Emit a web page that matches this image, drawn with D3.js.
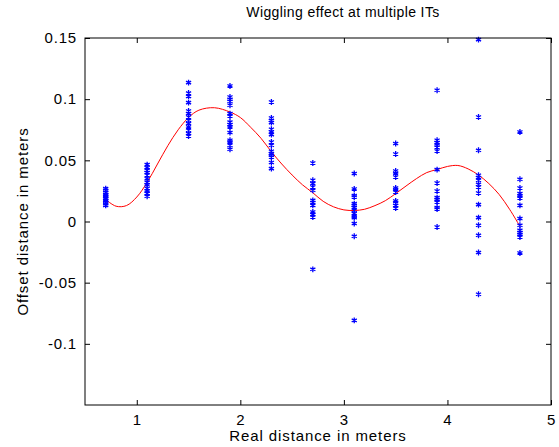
<!DOCTYPE html>
<html>
<head>
<meta charset="utf-8">
<script src="https://cdn.jsdelivr.net/npm/d3@7"></script>
<style>
  body { margin: 0; background: #fff; }
  text { font-family: "Liberation Sans", Arial, sans-serif; fill: #000; }
</style>
</head>
<body>
<div id="chart"></div>
<script>
// measurement positions (m) and the offsets measured at each one
var positions = [0.7, 1.1, 1.5, 1.9, 2.3, 2.7, 3.1, 3.5, 3.9, 4.3, 4.7];
var offsets = [
    [0.0269, 0.0255, 0.0238, 0.0222, 0.0206, 0.019, 0.0173, 0.0157, 0.0145, 0.0132, 0.0215, 0.0185],
    [0.0465, 0.044, 0.042, 0.04, 0.038, 0.035, 0.032, 0.03, 0.027, 0.025, 0.023, 0.0206],
    [0.1135, 0.105, 0.1023, 0.0972, 0.0903, 0.0882, 0.0854, 0.0827, 0.08, 0.0773, 0.0746, 0.0719, 0.0699],
    [0.1108, 0.1018, 0.0999, 0.0983, 0.095, 0.0882, 0.0862, 0.0813, 0.0792, 0.0773, 0.0727, 0.0664, 0.0651, 0.0623, 0.059],
    [0.0977, 0.0846, 0.0827, 0.0808, 0.0754, 0.0732, 0.071, 0.065, 0.0623, 0.0574, 0.0555, 0.0541, 0.0527, 0.0482, 0.0432],
    [0.0478, 0.0337, 0.031, 0.0282, 0.0255, 0.0173, 0.0155, 0.0132, 0.0078, 0.0056, 0.0037, -0.0391],
    [0.0392, 0.0266, 0.0212, 0.02, 0.0146, 0.0132, 0.0114, 0.0092, 0.0065, 0.0043, 0.0032, -0.0017, -0.0121, -0.0808],
    [0.0637, 0.0552, 0.0413, 0.0397, 0.0364, 0.0274, 0.0261, 0.0241, 0.0168, 0.0151, 0.0132, 0.011],
    [0.1073, 0.0664, 0.0645, 0.0625, 0.0609, 0.0576, 0.0424, 0.0315, 0.0249, 0.0195, 0.0179, 0.0159, 0.0114, 0.0102, -0.0045],
    [0.1487, 0.0854, 0.0582, 0.0378, 0.0359, 0.0337, 0.0304, 0.0282, 0.0233, 0.0138, 0.0032, -0.0031, -0.0113, -0.0254, -0.0595],
    [0.0732, 0.0345, 0.0274, 0.0228, 0.0209, 0.0192, 0.0132, 0.0024, -0.0031, -0.0072, -0.0091, -0.0107, -0.0127, -0.0257]
];

// fitted curve
var fitX = [0.7, 0.8, 0.9, 1.0, 1.1, 1.2, 1.3, 1.4, 1.5, 1.6, 1.75, 1.9, 2.0, 2.1, 2.2, 2.3, 2.4, 2.5, 2.6, 2.7,
            2.8, 2.9, 3.0, 3.1, 3.2, 3.3, 3.4, 3.5, 3.6, 3.7, 3.8, 3.9, 4.0, 4.1, 4.2, 4.3, 4.4, 4.5, 4.6, 4.7];
var fitY = [0.018, 0.0125, 0.013, 0.020, 0.032, 0.047, 0.062, 0.075, 0.085, 0.091, 0.093, 0.0895, 0.085, 0.077, 0.068, 0.057, 0.047, 0.038, 0.030, 0.0235,
            0.0165, 0.012, 0.0095, 0.009, 0.010, 0.013, 0.017, 0.0228, 0.029, 0.035, 0.040, 0.0425, 0.045, 0.0458, 0.043, 0.038, 0.031, 0.022, 0.010, -0.004];

var xTicks = [1, 2, 3, 4, 5];
var yTicks = [-0.1, -0.05, 0, 0.05, 0.1, 0.15];

var width = 559;
var height = 447;
var margin = { left: 85, right: 8, top: 38, bottom: 42 };
var plotW = width - margin.left - margin.right;
var plotH = height - margin.top - margin.bottom;

var xScale = d3.scaleLinear().domain([0.5, 5]).range([0, plotW]);
var yScale = d3.scaleLinear().domain([-0.15, 0.15]).range([plotH, 0]);

var svg = d3.select('#chart')
    .append('svg')
    .attr('width', width)
    .attr('height', height);

var plot = svg.append('g')
    .attr('transform', 'translate(' + margin.left + ',' + margin.top + ')');

// MATLAB style box with inward ticks on all four sides
function drawAxes() {
    var tickLen = 5;
    var bottom = d3.axisBottom(xScale).tickValues(xTicks).tickSizeInner(-tickLen).tickSizeOuter(0).tickPadding(9)
        .tickFormat(d3.format('d'));
    var top = d3.axisTop(xScale).tickValues(xTicks).tickSizeInner(-tickLen).tickSizeOuter(0).tickFormat('');
    var left = d3.axisLeft(yScale).tickValues(yTicks).tickSizeInner(-tickLen).tickSizeOuter(0).tickPadding(8)
        .tickFormat(function (d) { return String(+d.toFixed(2)); });
    var right = d3.axisRight(yScale).tickValues(yTicks).tickSizeInner(-tickLen).tickSizeOuter(0).tickFormat('');

    plot.append('g').attr('class', 'x-axis').attr('transform', 'translate(0,' + plotH + ')').call(bottom);
    plot.append('g').attr('class', 'x-axis-top').call(top);
    plot.append('g').attr('class', 'y-axis').call(left);
    plot.append('g').attr('class', 'y-axis-right').attr('transform', 'translate(' + plotW + ',0)').call(right);

    plot.selectAll('.domain').remove();
    plot.selectAll('.tick line').attr('stroke', '#000').attr('stroke-width', 1);
    plot.selectAll('.tick text')
        .style('font-family', '"Liberation Sans", Arial, sans-serif')
        .style('font-size', '15px')
        .style('letter-spacing', '0.8px')
        .attr('fill', '#000');

    plot.append('rect')
        .attr('x', 0)
        .attr('y', 0)
        .attr('width', plotW)
        .attr('height', plotH)
        .attr('fill', 'none')
        .attr('stroke', '#000')
        .attr('stroke-width', 1);
}

function drawPoints() {
    var pts = [];
    positions.forEach(function (x, i) {
        offsets[i].forEach(function (v) {
            pts.push({ x: x, y: v });
        });
    });
    var star = d3.symbol().type(d3.symbolAsterisk).size(24);
    plot.append('g')
        .attr('class', 'points')
        .selectAll('path')
        .data(pts)
        .enter()
        .append('path')
        .attr('d', star)
        .attr('transform', function (d) {
            return 'translate(' + xScale(d.x) + ',' + yScale(d.y) + ')';
        })
        .attr('fill', 'none')
        .attr('stroke', '#0000ff')
        .attr('stroke-width', 1.3);
}

function drawFit() {
    var line = d3.line()
        .x(function (d, i) { return xScale(fitX[i]); })
        .y(function (d) { return yScale(d); })
        .curve(d3.curveCatmullRom);
    plot.append('path')
        .attr('class', 'fit')
        .attr('d', line(fitY))
        .attr('fill', 'none')
        .attr('stroke', '#ff0000')
        .attr('stroke-width', 1);
}

function drawTitles() {
    svg.append('text')
        .attr('x', 343)
        .attr('y', 17)
        .attr('text-anchor', 'middle')
        .style('font-size', '14px')
        .style('letter-spacing', '0.4px')
        .text('Wiggling effect at multiple ITs');

    svg.append('text')
        .attr('x', margin.left + plotW / 2)
        .attr('y', 441)
        .attr('text-anchor', 'middle')
        .style('font-size', '15px')
        .style('letter-spacing', '0.9px')
        .text('Real distance in meters');

    svg.append('text')
        .attr('transform', 'rotate(-90)')
        .attr('x', -(margin.top + plotH / 2))
        .attr('y', 28)
        .attr('text-anchor', 'middle')
        .style('font-size', '15px')
        .style('letter-spacing', '0.9px')
        .text('Offset distance in meters');
}

drawFit();
drawPoints();
drawAxes();
drawTitles();
</script>
</body>
</html>
